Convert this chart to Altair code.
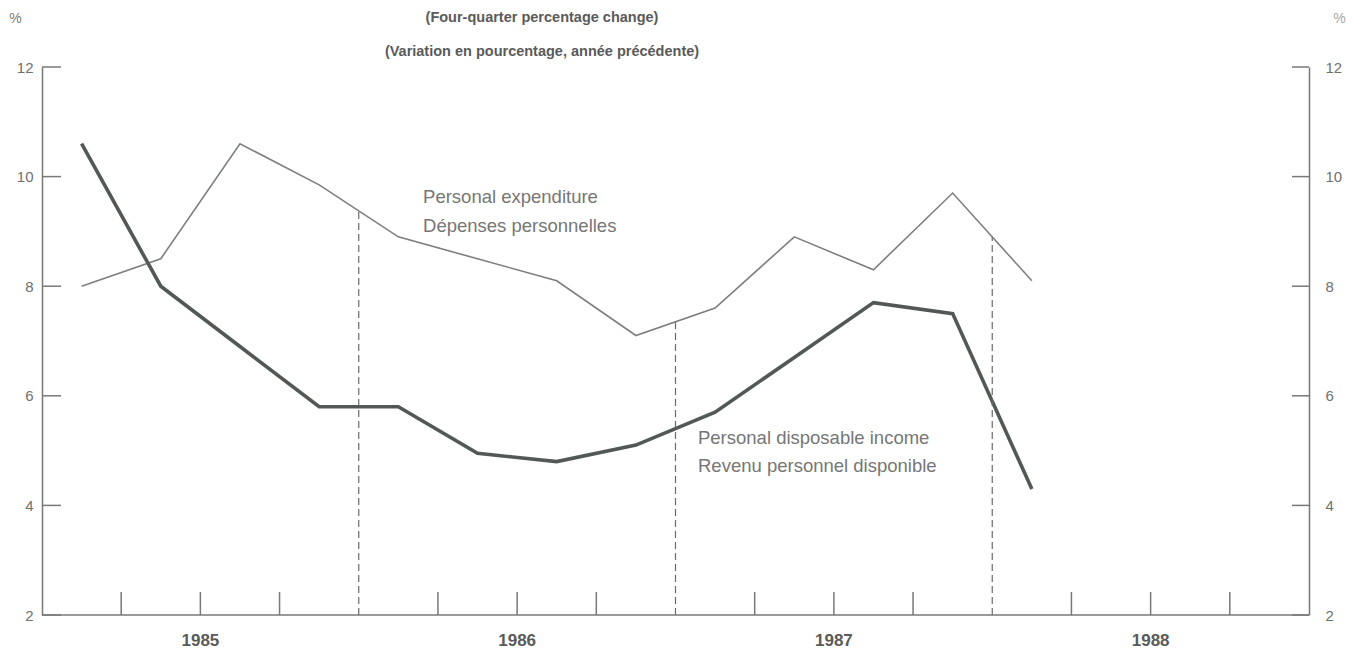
import altair as alt
import pandas as pd

# ---------------- data ----------------
quarters = ["1985Q1", "1985Q2", "1985Q3", "1985Q4",
            "1986Q1", "1986Q2", "1986Q3", "1986Q4",
            "1987Q1", "1987Q2", "1987Q3", "1987Q4",
            "1988Q1"]
personal_expenditure = [8.0, 8.5, 10.6, 9.85, 8.9, 8.5, 8.1, 7.1, 7.6, 8.9, 8.3, 9.7, 8.1]
personal_disposable_income = [10.6, 8.0, 6.9, 5.8, 5.8, 4.95, 4.8, 5.1, 5.7, 6.7, 7.7, 7.5, 4.3]

year_labels = [1985, 1986, 1987, 1988]
year_breaks = [1986, 1987, 1988]
y_ticks = [2, 4, 6, 8, 10, 12]

title_lines = ["(Four-quarter percentage change)",
               "(Variation en pourcentage, année précédente)"]
label_text = ["Personal expenditure", "Dépenses personnelles",
              "Personal disposable income", "Revenu personnel disponible"]
label_x = [1986.203, 1986.203, 1987.071, 1987.071]
label_y = [9.63, 9.10, 5.23, 4.72]

# ---------------- tables ----------------
def qpos(q):
    return int(q[:4]) + (int(q[-1]) - 0.5) / 4

df = pd.DataFrame({
    "q": quarters,
    "t": [qpos(q) for q in quarters],
    "pe": personal_expenditure,
    "pdi": personal_disposable_income,
})

pe_by_q = dict(zip(quarters, personal_expenditure))
breaks = pd.DataFrame({
    "t": year_breaks,
    "lo": [2] * len(year_breaks),
    "hi": [(pe_by_q[f"{b-1}Q4"] + pe_by_q[f"{b}Q1"]) / 2 for b in year_breaks],
})
xticks = pd.DataFrame({"t": [y + k / 4 for y in year_labels for k in (1, 2, 3)]})
yticks = pd.DataFrame({"v": y_ticks})
years = pd.DataFrame({"t": [y + 0.5 for y in year_labels],
                      "label": [str(y) for y in year_labels]})
labels = pd.DataFrame({"text": label_text, "x": label_x, "y": label_y})

W, H = 1267, 548
FONT = "Liberation Sans"
AXIS_COLOR = "#787878"

xs = alt.Scale(domain=[1985, 1989], nice=False, zero=False)
ys = alt.Scale(domain=[2, 12], nice=False, zero=False)

left_axis = alt.Axis(values=y_ticks, ticks=False, domain=True, grid=False,
                     labelPadding=9, labelFontSize=15, labelColor="#707070",
                     labelFont=FONT, domainColor=AXIS_COLOR, domainWidth=1.5,
                     title="%", titleAngle=0, titleX=-27, titleY=-49,
                     titleAlign="center", titleBaseline="middle",
                     titleFontSize=14, titleFontWeight="normal",
                     titleColor="#7a7a7a", titleFont=FONT)

right_axis = alt.Axis(orient="right", values=y_ticks, ticks=False, domain=True,
                      grid=False, labelPadding=16, labelFontSize=15,
                      labelColor="#707070", labelFont=FONT,
                      domainColor=AXIS_COLOR, domainWidth=1.5,
                      title="%", titleAngle=0, titleX=30, titleY=-49,
                      titleAlign="center", titleBaseline="middle",
                      titleFontSize=14, titleFontWeight="normal",
                      titleColor="#a8a8a8", titleFont=FONT)

base = alt.Chart(df)

pe_line = base.mark_line(color="#7c807d", strokeWidth=1.6).encode(
    x=alt.X("t:Q", scale=xs, axis=None),
    y=alt.Y("pe:Q", scale=ys, axis=left_axis),
)

pdi_line = base.mark_line(color="#525954", strokeWidth=3.6).encode(
    x=alt.X("t:Q", scale=xs, axis=None),
    y=alt.Y("pdi:Q", scale=ys, axis=None),
)

dashed = alt.Chart(breaks).mark_rule(color="#6a6a6a", strokeWidth=1.2,
                                      strokeDash=[7, 4]).encode(
    x=alt.X("t:Q", scale=xs, axis=None),
    y=alt.Y("lo:Q", scale=ys, axis=None),
    y2="hi:Q",
)

# bottom axis line (frame edge), spans the whole plot width
bottom_line = alt.Chart(pd.DataFrame({"v": [2]})).mark_rule(
    color=AXIS_COLOR, strokeWidth=1.5).encode(
    y=alt.Y("v:Q", scale=ys, axis=None),
    x=alt.value(0),
    x2=alt.value(W),
)

bottom_ticks = alt.Chart(xticks).mark_rule(color=AXIS_COLOR, strokeWidth=1.5).encode(
    x=alt.X("t:Q", scale=xs, axis=None),
    y=alt.value(H),
    y2=alt.value(H - 23),
)

left_ticks = alt.Chart(yticks).mark_rule(color=AXIS_COLOR, strokeWidth=1.5).encode(
    y=alt.Y("v:Q", scale=ys, axis=None),
    x=alt.value(0),
    x2=alt.value(19),
)

right_ticks = alt.Chart(yticks).mark_rule(color=AXIS_COLOR, strokeWidth=1.5).encode(
    y=alt.Y("v:Q", scale=ys, axis=right_axis),
    x=alt.value(W - 17),
    x2=alt.value(W),
)

year_text = alt.Chart(years).mark_text(align="center", baseline="middle", font=FONT,
                                       fontSize=17, fontWeight="bold",
                                       color="#5a5a5a").encode(
    x=alt.X("t:Q", scale=xs, axis=None),
    y=alt.value(H + 26),
    text="label:N",
)

notes = alt.Chart(labels).mark_text(align="left", baseline="middle", font=FONT,
                                    fontSize=18.5, color="#767676").encode(
    x=alt.X("x:Q", scale=xs, axis=None),
    y=alt.Y("y:Q", scale=ys, axis=None),
    text="text:N",
)

title1 = alt.Chart(pd.DataFrame({"text": [title_lines[0]]})).mark_text(
    align="center", baseline="middle", font=FONT, fontSize=14.5,
    fontWeight="bold", color="#5a5a5a").encode(
    text="text:N", x=alt.value(500), y=alt.value(-49))

title2 = alt.Chart(pd.DataFrame({"text": [title_lines[1]]})).mark_text(
    align="center", baseline="middle", font=FONT, fontSize=14.5,
    fontWeight="bold", color="#5a5a5a").encode(
    text="text:N", x=alt.value(500), y=alt.value(-15))

chart = alt.layer(
    pe_line, pdi_line, dashed, bottom_line, bottom_ticks, left_ticks, right_ticks,
    year_text, notes, title1, title2,
).resolve_scale(y="independent").properties(
    width=W, height=H,
    autosize=alt.AutoSizeParams(type="none"),
    padding={"left": 34, "top": 59, "right": 40, "bottom": 35},
).configure(background="white").configure_view(stroke=None)

chart.save("out.html", embed_options={"renderer": "svg", "actions": False})
